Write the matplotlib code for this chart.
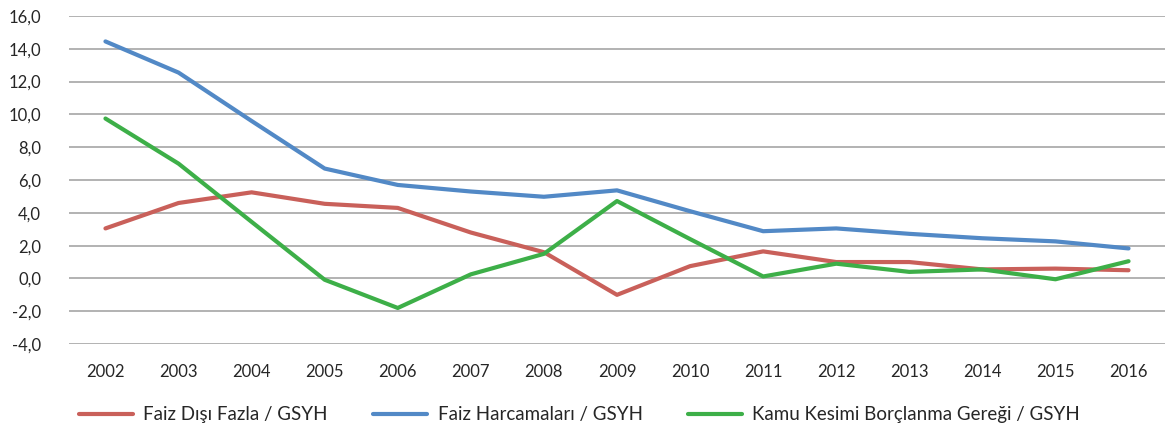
import matplotlib.pyplot as plt
import numpy as np

plt.rcParams['font.family'] = ['Lato', 'DejaVu Sans']

years = ['2002', '2003', '2004', '2005', '2006', '2007', '2008', '2009',
         '2010', '2011', '2012', '2013', '2014', '2015', '2016']
faiz_disi = [3.05, 4.6, 5.25, 4.55, 4.3, 2.8, 1.6, -1.0, 0.75, 1.65, 1.0, 1.0, 0.55, 0.6, 0.5]
faiz_harc = [14.45, 12.55, 9.6, 6.7, 5.7, 5.3, 4.98, 5.37, 4.1, 2.88, 3.05, 2.72, 2.45, 2.26, 1.83]
kkbg = [9.75, 7.0, 3.45, -0.08, -1.8, 0.25, 1.5, 4.72, 2.4, 0.12, 0.9, 0.4, 0.55, -0.05, 1.05]
labels = ['Faiz Dışı Fazla / GSYH', 'Faiz Harcamaları / GSYH',
          'Kamu Kesimi Borçlanma Gereği / GSYH']

fig = plt.figure(figsize=(11.68, 4.29), dpi=100)
ax = fig.add_axes([0.059, 0.198, 0.9385, 0.7647])

x = np.arange(len(years))
ax.plot(x, faiz_disi, color='#C9605A', lw=3, label=labels[0], solid_capstyle='round')
ax.plot(x, faiz_harc, color='#5289C6', lw=3, label=labels[1], solid_capstyle='round')
ax.plot(x, kkbg, color='#3DAF48', lw=3, label=labels[2], solid_capstyle='round')

ax.set_xlim(-0.5, len(years) - 0.5)
ax.set_ylim(-4, 16)
ax.set_yticks(np.arange(-4, 17, 2))
ax.set_yticklabels([('%.1f' % v).replace('.', ',') for v in np.arange(-4, 17, 2)])
ax.set_xticks(x)
ax.set_xticklabels(years)
ax.tick_params(length=0, labelsize=12, colors='#262626')
ax.tick_params(axis='y', pad=20)
ax.tick_params(axis='x', pad=14)
ax.grid(axis='y', color='#A6A6A6', lw=1.2)
ax.set_axisbelow(True)
for s in ax.spines.values():
    s.set_visible(False)

fig.legend(loc='center', bbox_to_anchor=(0.496, 0.033), ncol=3, frameon=False,
           fontsize=13.5, handlelength=2.9, handletextpad=0.55, columnspacing=2.4,
           labelcolor='#262626')

fig.savefig('out.png', dpi=100)
